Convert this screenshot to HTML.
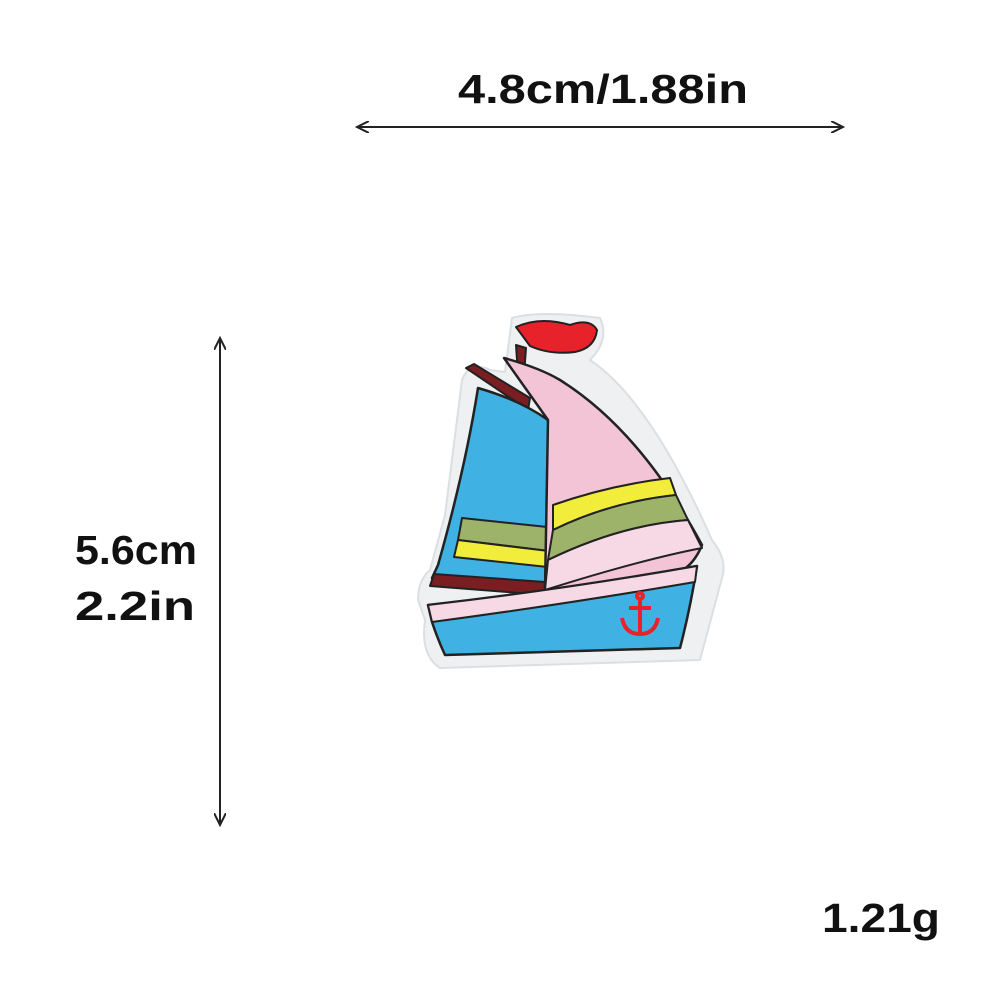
<!DOCTYPE html>
<html><head><meta charset="utf-8"><style>
html,body{margin:0;padding:0;background:#fff;width:1000px;height:1000px;overflow:hidden}
svg{display:block}
text{font-family:"Liberation Sans",sans-serif;font-size:41px;font-weight:bold;fill:#111}
</style></head><body>
<svg width="1000" height="1000" viewBox="0 0 1000 1000">
<defs>
<marker id="ah" markerWidth="14" markerHeight="12" refX="12" refY="6" orient="auto-start-reverse" markerUnits="userSpaceOnUse">
<path d="M0,0 L12,6 L0,12" fill="none" stroke="#222" stroke-width="2"/>
</marker>
</defs>
<g>
<text x="458" y="103" textLength="290" lengthAdjust="spacingAndGlyphs">4.8cm/1.88in</text>
<line x1="357" y1="127" x2="843" y2="127" stroke="#222" stroke-width="2" marker-start="url(#ah)" marker-end="url(#ah)"/>
</g>
<g>
<line x1="220" y1="338" x2="220" y2="825" stroke="#222" stroke-width="2" marker-start="url(#ah)" marker-end="url(#ah)"/>
<text x="75" y="564" textLength="122" lengthAdjust="spacingAndGlyphs">5.6cm</text>
<text x="75" y="620" textLength="120" lengthAdjust="spacingAndGlyphs">2.2in</text>
</g>
<text x="822" y="932" textLength="118" lengthAdjust="spacingAndGlyphs">1.21g</text>
<g stroke-linejoin="round">
<path d="M512,318 Q540,310 600,318 Q610,340 590,360 Q650,400 712,540 Q728,560 722,578 L700,660 L440,668 Q420,655 425,620 L418,600 Q418,580 430,570 L445,515 L462,380 Q470,360 490,370 L505,372 Z" fill="#eef0f2" stroke="#dcdfe2" stroke-width="2"/>
<path d="M516,327 Q540,316 570,325 Q590,318 597,330 Q595,348 575,352 Q550,355 530,346 Z" fill="#e8222a" stroke="#222" stroke-width="2"/>
<path d="M516,345 L526,348 L524,375 L518,375 Z" fill="#7a1e22" stroke="#222" stroke-width="2"/>
<path d="M466,368 L474,364 L530,398 L528,410 Z" fill="#7a1e22" stroke="#222" stroke-width="2"/>
<path d="M478,388 Q520,400 548,420 Q556,500 558,588 L432,578 L438,565 Q465,470 478,388 Z" fill="#3fb1e2" stroke="#222" stroke-width="2.5"/>
<path d="M462,518 L557,528 L557,552 L458,540 Z" fill="#9db36a" stroke="#222" stroke-width="2"/>
<path d="M458,540 L557,552 L557,568 L454,557 Z" fill="#f2ec3a" stroke="#222" stroke-width="2"/>
<path d="M434,574 L545,582 L545,595 L430,586 Z" fill="#7a1e22" stroke="#222" stroke-width="2"/>
<path d="M504,358 Q540,368 560,380 Q640,430 702,545 Q690,575 660,578 L545,590 L548,420 Z" fill="#f3c3d6" stroke="#222" stroke-width="2.5"/>
<path d="M553,505 Q610,485 670,478 L676,495 Q610,502 553,530 Z" fill="#f2ec3a" stroke="#222" stroke-width="2"/>
<path d="M553,530 Q610,502 676,495 L688,520 Q620,525 548,560 Z" fill="#9db36a" stroke="#222" stroke-width="2"/>
<path d="M548,560 Q620,525 688,520 L702,548 Q640,560 545,590 Z" fill="#f6d9e4" stroke="#222" stroke-width="2"/>
<path d="M428,605 Q560,590 697,566 Q690,610 680,648 L445,655 Q438,640 432,622 Z" fill="#3fb1e2" stroke="#222" stroke-width="2.5"/>
<path d="M428,605 Q560,590 697,566 L695,582 Q560,605 432,622 Z" fill="#f6d9e4" stroke="#222" stroke-width="2"/>
<g stroke="#e8222a" stroke-width="4" fill="none">
<circle cx="640" cy="596" r="3"/>
<line x1="640" y1="599" x2="640" y2="632"/>
<line x1="629" y1="608" x2="651" y2="608"/>
<path d="M622,618 Q625,634 640,634 Q655,634 658,618"/>
</g>
</g>
</svg>
</body></html>
